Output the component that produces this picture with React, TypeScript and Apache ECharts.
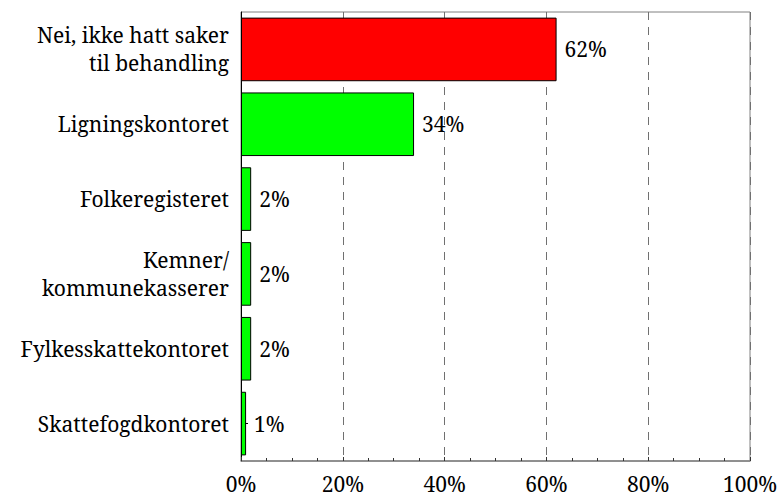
import React, { useEffect, useRef } from "react";
import * as echarts from "echarts";

const categories = [
  "Nei, ikke hatt saker\ntil behandling",
  "Ligningskontoret",
  "Folkeregisteret",
  "Kemner/\nkommunekasserer",
  "Fylkesskattekontoret",
  "Skattefogdkontoret",
];
const values = [62, 34, 2, 2, 2, 1];
const barColors = ["#ff0000", "#00ff00", "#00ff00", "#00ff00", "#00ff00", "#00ff00"];
const xTicks = [0, 20, 40, 60, 80, 100];

const FONT = "Noto Serif";
const FS = 21;

export default function App() {
  const ref = useRef<HTMLDivElement>(null);
  useEffect(() => {
    if (!ref.current) return;
    const chart = echarts.init(ref.current, undefined, { renderer: "svg" });
    chart.setOption({
      animation: false,
      backgroundColor: "#ffffff",
      grid: {
        left: 241,
        right: 30,
        top: 12,
        bottom: 37,
        show: true,
        borderColor: "#808080",
        borderWidth: 1,
        containLabel: false,
        outerBoundsMode: "none",
      },
      xAxis: {
        type: "value",
        min: xTicks[0],
        max: xTicks[xTicks.length - 1],
        interval: 20,
        axisLine: { show: true, lineStyle: { color: "#808080", width: 1.5 } },
        axisTick: { show: true, inside: true, length: 4, lineStyle: { color: "#333" } },
        minorTick: { show: true, splitNumber: 4, length: 3, lineStyle: { color: "#333" } },
        splitLine: {
          show: true,
          lineStyle: { color: "#707070", width: 1, type: [8, 7] },
        },
        axisLabel: {
          formatter: "{value}%",
          fontFamily: FONT,
          fontSize: FS,
          lineHeight: 21,
          color: "#000",
          margin: 12,
        },
      },
      yAxis: {
        type: "category",
        data: categories,
        inverse: true,
        axisLine: { show: true, lineStyle: { color: "#000", width: 1 } },
        axisTick: { show: true, inside: true, alignWithLabel: true, length: 7, lineStyle: { color: "#000" } },
        splitLine: { show: false },
        axisLabel: {
          fontFamily: FONT,
          fontSize: FS,
          color: "#000",
          margin: 12,
          lineHeight: 28,
          align: "right",
        },
      },
      series: [
        {
          type: "bar",
          data: values.map((v, i) => ({ value: v, itemStyle: { color: barColors[i] } })),
          barCategoryGap: "15%",
          itemStyle: { borderColor: "#000", borderWidth: 1 },
          label: {
            show: true,
            position: "right",
            distance: 8,
            formatter: "{c}%",
            fontFamily: FONT,
            fontSize: FS,
            color: "#000",
          },
        },
      ],
    });
    return () => chart.dispose();
  }, []);
  return (
    <div
      ref={ref}
      style={{ position: "fixed", left: 0, top: 0, width: 780, height: 498, background: "#fff" }}
    />
  );
}
